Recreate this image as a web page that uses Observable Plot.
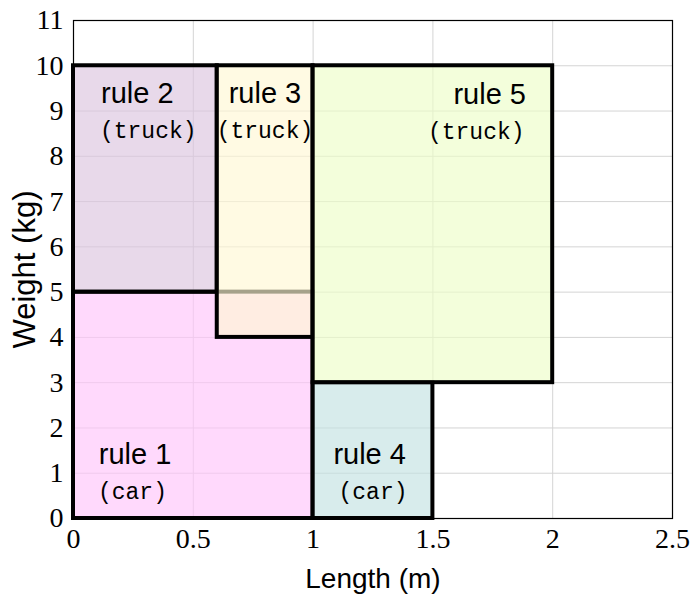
<!DOCTYPE html>
<html><head><meta charset="utf-8">
<script src="https://cdn.jsdelivr.net/npm/d3@7"></script>
<script src="https://cdn.jsdelivr.net/npm/@observablehq/plot@0.6"></script>
<style>body{margin:0;background:#fff}</style>
</head><body><div id="chart"></div>
<script>
// Data
const ruleNames = ["rule 1", "rule 2", "rule 3", "rule 4", "rule 5"];
const ruleKinds = ["(car)", "(truck)", "(truck)", "(car)", "(truck)"];
const ruleX1 = [0, 0, 0.6, 1, 1];
const ruleX2 = [1, 0.6, 1, 1.5, 2];
const ruleY1 = [0, 5, 4, 0, 3];
const ruleY2 = [5, 10, 10, 3, 10];
const ruleColors = ["#ffc5fa", "#dcc5df", "#fff7d4", "#c3e2e2", "#ecfec8"];
const nameX = [0.257, 0.266, 0.799, 1.236, 1.737];
const nameY = [1.40, 9.38, 9.38, 1.40, 9.37];
const kindX = [0.246, 0.312, 0.799, 1.25, 1.681];
const kindY = [0.60, 8.57, 8.57, 0.60, 8.54];
const xTicks = [0, 0.5, 1, 1.5, 2, 2.5];
const xTickLabels = ["0", "0.5", "1", "1.5", "2", "2.5"];
const yTicks = [0, 1, 2, 3, 4, 5, 6, 7, 8, 9, 10, 11];
const yTickLabels = ["0", "1", "2", "3", "4", "5", "6", "7", "8", "9", "10", "11"];
const xLabel = "Length (m)";
const yLabel = "Weight (kg)";

const rules = ruleNames.map((name, i) => ({
  name, kind: ruleKinds[i],
  x1: ruleX1[i], x2: ruleX2[i], y1: ruleY1[i], y2: ruleY2[i],
  color: ruleColors[i],
  nx: nameX[i], ny: nameY[i], kx: kindX[i], ky: kindY[i]
}));

const SANS = "Liberation Sans, Arial, Helvetica, sans-serif";
const SERIF = "Liberation Serif, Times New Roman, serif";
const MONO = "Liberation Mono, Courier New, monospace";

const chart = Plot.plot({
  width: 693,
  height: 596,
  marginLeft: 73,
  marginRight: 21,
  marginTop: 20,
  marginBottom: 78,
  style: {background: "white", fontFamily: SANS},
  x: {domain: [0, 2.5], axis: null},
  y: {domain: [0, 11], axis: null},
  color: {type: "identity"},
  marks: [
    Plot.gridX(xTicks, {stroke: "#d4d4d4", strokeOpacity: 1, strokeWidth: 1}),
    Plot.gridY(yTicks, {stroke: "#d4d4d4", strokeOpacity: 1, strokeWidth: 1}),
    Plot.frame({stroke: "black", strokeWidth: 1.2}),
    Plot.rect(rules, {
      x1: "x1", x2: "x2", y1: "y1", y2: "y2",
      fill: "color", fillOpacity: 0.65,
      stroke: "black", strokeWidth: 4
    }),
    Plot.axisX(xTicks, {
      tickSize: 0, tickPadding: 10, label: null,
      tickFormat: d => xTickLabels[xTicks.indexOf(d)],
      fontSize: 28, fontFamily: SERIF, fill: "black"
    }),
    Plot.axisY(yTicks, {
      tickSize: 0, tickPadding: 10, label: null,
      tickFormat: d => yTickLabels[yTicks.indexOf(d)],
      fontSize: 28, fontFamily: SERIF, fill: "black"
    }),
    Plot.text(rules, {
      x: "nx", y: "ny", text: "name",
      textAnchor: "middle", lineAnchor: "middle",
      fontSize: 29, fontFamily: SANS, fill: "black"
    }),
    Plot.text(rules, {
      x: "kx", y: "ky", text: "kind",
      textAnchor: "middle", lineAnchor: "middle",
      fontSize: 23, fontFamily: MONO, fill: "black"
    }),
    Plot.text([xLabel], {
      frameAnchor: "bottom", dy: 61, text: d => d,
      textAnchor: "middle", lineAnchor: "middle",
      fontSize: 28, fontFamily: SANS, fill: "black"
    }),
    Plot.text([yLabel], {
      frameAnchor: "left", dx: -48, rotate: -90, text: d => d,
      textAnchor: "middle", lineAnchor: "middle",
      fontSize: 31, fontFamily: SANS, fill: "black"
    })
  ]
});
document.getElementById("chart").appendChild(chart);
</script>
</body></html>
